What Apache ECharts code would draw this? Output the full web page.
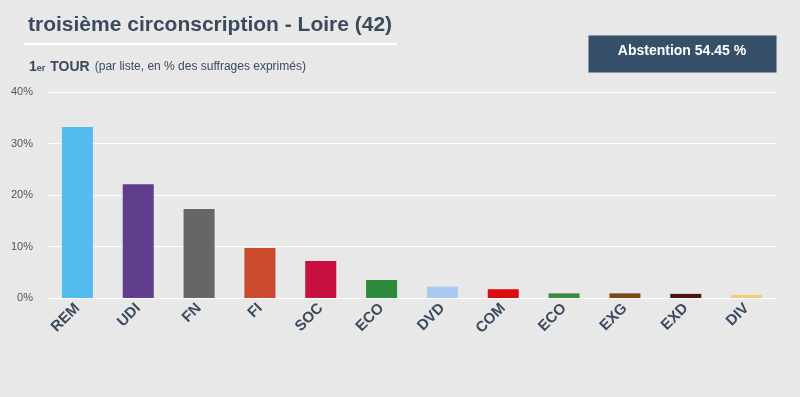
<!DOCTYPE html>
<html>
<head>
<meta charset="utf-8">
<script src="https://cdn.jsdelivr.net/npm/echarts@6/dist/echarts.min.js"></script>
<style>
html, body { margin: 0; padding: 0; background: #e8e8e8; }
#chart { width: 800px; height: 397px; }
</style>
</head>
<body>
<div id="chart"></div>
<script>
// partis et scores (% des suffrages exprimés)
var partis = ['REM', 'UDI', 'FN', 'FI', 'SOC', 'ECO', 'DVD', 'COM', 'ECO', 'EXG', 'EXD', 'DIV'];
var scores = [33.2, 22.1, 17.3, 9.7, 7.2, 3.5, 2.2, 1.7, 0.9, 0.9, 0.8, 0.6];
var couleurs = ['#52bcef', '#5f3f8d', '#666666', '#cb4a2d', '#c8113f', '#2e8b3b', '#a9c9f2', '#dc0a0a', '#3b8a42', '#7b4a15', '#4c1212', '#ecd074'];
var yTicks = [0, 10, 20, 30, 40];
var abstention = 54.45;

var myChart = echarts.init(document.getElementById('chart'));
var option = {
    backgroundColor: '#e8e8e8',
    animation: false,
    title: [{
        text: 'troisième circonscription - Loire (42)',
        left: 23,
        top: 10,
        textStyle: {
            fontFamily: 'Liberation Sans, Arial',
            fontSize: 21,
            fontWeight: 'bold',
            color: '#3b4a5c'
        }
    }, {
        text: '{b|1}{s|er} {b|TOUR} {n|(par liste, en % des suffrages exprimés)}',
        left: 24,
        top: 53,
        textStyle: {
            rich: {
                b: { fontFamily: 'Liberation Sans, Arial', fontSize: 14, fontWeight: 'bold', color: '#3b4a5c' },
                s: { fontFamily: 'Liberation Sans, Arial', fontSize: 9, fontWeight: 'bold', color: '#3b4a5c', padding: [3, 0, 0, 0] },
                n: { fontFamily: 'Liberation Sans, Arial', fontSize: 12, fontWeight: 'normal', color: '#3b4a5c' }
            }
        }
    }],
    graphic: [{
        type: 'rect',
        shape: { x: 24, y: 43, width: 373, height: 2 },
        style: { fill: '#ffffff' }
    }, {
        type: 'rect',
        shape: { x: 588, y: 35, width: 189, height: 38 },
        style: { fill: '#37506a', stroke: '#dfe3e8', lineWidth: 1 }
    }, {
        type: 'text',
        x: 682, y: 44,
        style: {
            text: 'Abstention ' + abstention.toFixed(2) + ' %',
            font: 'bold 14px Liberation Sans, Arial',
            fill: '#ffffff',
            textAlign: 'center'
        }
    }],
    grid: { left: 47, right: 23, top: 92, bottom: 99 },
    xAxis: {
        type: 'category',
        data: partis,
        axisLine: { show: false },
        axisTick: { show: false },
        axisLabel: {
            interval: 0,
            rotate: 45,
            margin: 8,
            fontFamily: 'Liberation Sans, Arial',
            fontSize: 15,
            fontWeight: 'bold',
            color: '#3b4a5c'
        }
    },
    yAxis: {
        type: 'value',
        min: 0,
        max: yTicks[yTicks.length - 1],
        interval: 10,
        axisLine: { show: false },
        axisTick: { show: false },
        splitLine: { lineStyle: { color: '#ffffff', width: 1 } },
        axisLabel: {
            margin: 14,
            fontFamily: 'Liberation Sans, Arial',
            fontSize: 11,
            color: '#555555',
            formatter: '{value}%'
        }
    },
    series: [{
        type: 'bar',
        barWidth: '51%',
        data: scores.map(function (v, i) {
            return { value: v, itemStyle: { color: couleurs[i] } };
        })
    }]
};
myChart.setOption(option);
</script>
</body>
</html>
